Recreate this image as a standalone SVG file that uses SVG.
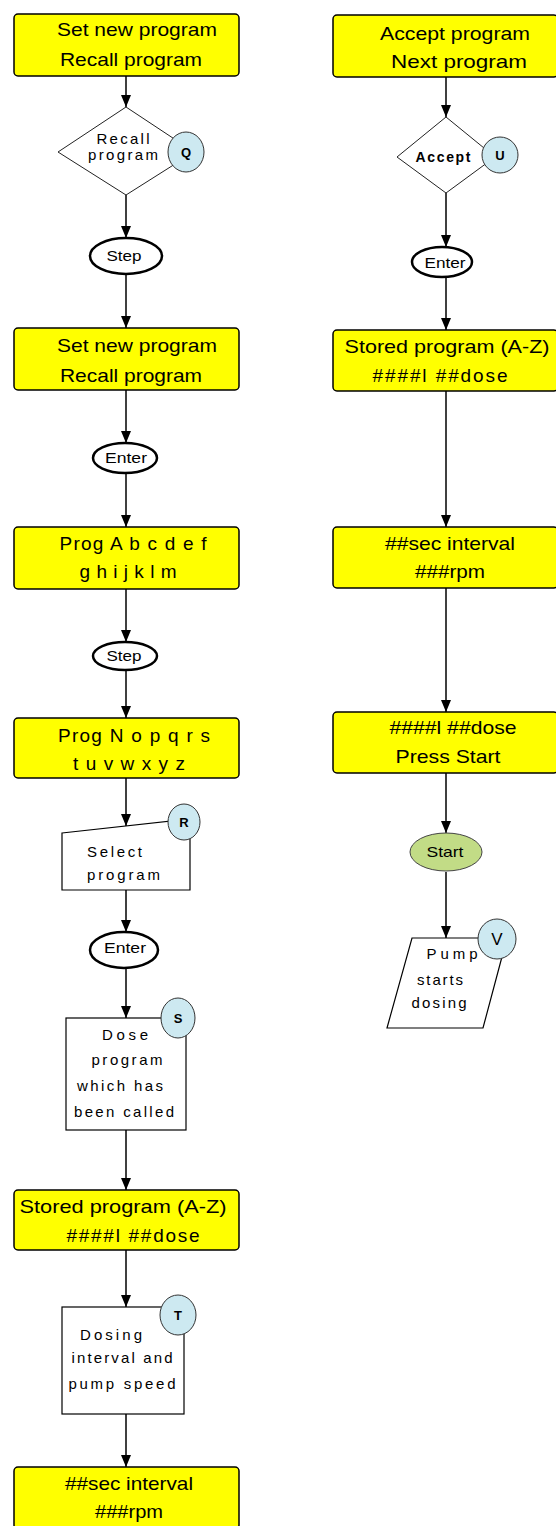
<svg xmlns="http://www.w3.org/2000/svg" width="556" height="1526" viewBox="0 0 556 1526">
<style>
.box{fill:#ffff00;stroke:#000;stroke-width:1.5}
.proc{fill:#fff;stroke:#000;stroke-width:1.2}
.dia{fill:#fff;stroke:#222;stroke-width:1}
.term{fill:#fff;stroke:#000;stroke-width:2.5}
.start{fill:#c2dc86;stroke:#444;stroke-width:1}
.tag{fill:#cde9f1;stroke:#333;stroke-width:1}
.big{font-family:"Liberation Sans",Arial,sans-serif;font-size:19px;fill:#000;text-anchor:middle}
.sm{font-family:"Liberation Sans",Arial,sans-serif;font-size:15px;fill:#000;text-anchor:middle}
.tl{font-family:"Liberation Sans",Arial,sans-serif;font-size:13px;font-weight:bold;fill:#000;text-anchor:middle}
.con{stroke:#000;stroke-width:1.5;fill:none;marker-end:url(#ah)}
</style>
<defs>
<marker id="ah" viewBox="0 0 12 10" refX="12" refY="5" markerWidth="12" markerHeight="10" markerUnits="userSpaceOnUse" orient="auto">
<path d="M0,0 L12,5 L0,10 Z" fill="#000"/>
</marker>
</defs>
<rect width="556" height="1526" fill="#fff"/>

<g id="connectors">
<line class="con" x1="126" y1="76" x2="126" y2="107"/>
<line class="con" x1="126" y1="195" x2="126" y2="238"/>
<line class="con" x1="126" y1="274" x2="126" y2="328"/>
<line class="con" x1="126" y1="390" x2="126" y2="443"/>
<line class="con" x1="126" y1="473" x2="126" y2="527"/>
<line class="con" x1="126" y1="589" x2="126" y2="642"/>
<line class="con" x1="126" y1="670" x2="126" y2="718"/>
<line class="con" x1="126" y1="778" x2="126" y2="826"/>
<line class="con" x1="126" y1="890" x2="126" y2="932"/>
<line class="con" x1="126" y1="968" x2="126" y2="1018"/>
<line class="con" x1="126" y1="1130" x2="126" y2="1190"/>
<line class="con" x1="126" y1="1250" x2="126" y2="1307"/>
<line class="con" x1="126" y1="1414" x2="126" y2="1467"/>
<line class="con" x1="446" y1="77" x2="446" y2="117"/>
<line class="con" x1="446" y1="193" x2="446" y2="247"/>
<line class="con" x1="446" y1="277" x2="446" y2="330"/>
<line class="con" x1="446" y1="391" x2="446" y2="527"/>
<line class="con" x1="446" y1="588" x2="446" y2="712"/>
<line class="con" x1="446" y1="773" x2="446" y2="833"/>
<line class="con" x1="446" y1="872" x2="446" y2="938"/>
</g>

<g id="n1">
<rect class="box" x="14" y="14" width="225" height="62" rx="4"/>
<text class="big" x="137" y="36" textLength="160" lengthAdjust="spacingAndGlyphs">Set new program</text>
<text class="big" x="131" y="66" textLength="142" lengthAdjust="spacingAndGlyphs">Recall program</text>
</g>
<g id="n2">
<polygon class="dia" points="126,107 194,152 126,195 58,152"/>
<text class="sm" x="123" y="144" textLength="53" lengthAdjust="spacing">Recall</text>
<text class="sm" x="123" y="160" textLength="70" lengthAdjust="spacing">program</text>
<ellipse class="tag" cx="186" cy="152" rx="18" ry="20"/>
<text class="tl" x="186" y="157">Q</text>
</g>
<g id="n3">
<ellipse class="term" cx="126" cy="256" rx="36" ry="18"/>
<text class="sm" x="124" y="261" textLength="35" lengthAdjust="spacingAndGlyphs">Step</text>
</g>
<g id="n4">
<rect class="box" x="14" y="328" width="225" height="62" rx="4"/>
<text class="big" x="137" y="352" textLength="160" lengthAdjust="spacingAndGlyphs">Set new program</text>
<text class="big" x="131" y="382" textLength="142" lengthAdjust="spacingAndGlyphs">Recall program</text>
</g>
<g id="n5">
<ellipse class="term" cx="125" cy="458" rx="32" ry="15"/>
<text class="sm" x="126" y="463" textLength="42" lengthAdjust="spacingAndGlyphs">Enter</text>
</g>
<g id="n6">
<rect class="box" x="14" y="527" width="225" height="62" rx="4"/>
<text class="big" x="133" y="550" textLength="147" lengthAdjust="spacing">Prog A b c d e f</text>
<text class="big" x="128" y="578" textLength="97" lengthAdjust="spacing">g h i j k l m</text>
</g>
<g id="n7">
<ellipse class="term" cx="125" cy="656" rx="32" ry="14"/>
<text class="sm" x="124" y="661" textLength="35" lengthAdjust="spacingAndGlyphs">Step</text>
</g>
<g id="n8">
<rect class="box" x="14" y="718" width="225" height="60" rx="4"/>
<text class="big" x="134" y="742" textLength="152" lengthAdjust="spacing">Prog N o p q r s</text>
<text class="big" x="129" y="770" textLength="112" lengthAdjust="spacing">t u v w x y z</text>
</g>
<g id="n9">
<polygon class="proc" points="62,833 190,819 190,890 62,890"/>
<text class="sm" x="87" y="857" style="text-anchor:start" textLength="55" lengthAdjust="spacing">Select</text>
<text class="sm" x="87" y="880" style="text-anchor:start" textLength="73" lengthAdjust="spacing">program</text>
<ellipse class="tag" cx="184" cy="822" rx="16" ry="18"/>
<text class="tl" x="184" y="827">R</text>
</g>
<g id="n10">
<ellipse class="term" cx="124" cy="950" rx="34" ry="18"/>
<text class="sm" x="125" y="953" textLength="42" lengthAdjust="spacingAndGlyphs">Enter</text>
</g>
<g id="n11">
<rect class="proc" x="66" y="1018" width="120" height="112"/>
<text class="sm" x="125" y="1040" textLength="46" lengthAdjust="spacing">Dose</text>
<text class="sm" x="127" y="1065" textLength="71" lengthAdjust="spacing">program</text>
<text class="sm" x="120" y="1091" textLength="86" lengthAdjust="spacing">which has</text>
<text class="sm" x="124" y="1117" textLength="100" lengthAdjust="spacing">been called</text>
<ellipse class="tag" cx="178" cy="1018" rx="17" ry="20"/>
<text class="tl" x="178" y="1023">S</text>
</g>
<g id="n12">
<rect class="box" x="14" y="1190" width="225" height="60" rx="4"/>
<text class="big" x="123" y="1213" textLength="207" lengthAdjust="spacingAndGlyphs">Stored program (A-Z)</text>
<text class="big" x="133" y="1242" textLength="133" lengthAdjust="spacing">####l  ##dose</text>
</g>
<g id="n13">
<rect class="proc" x="62" y="1307" width="122" height="107"/>
<text class="sm" x="111" y="1340" textLength="62" lengthAdjust="spacing">Dosing</text>
<text class="sm" x="122" y="1363" textLength="101" lengthAdjust="spacing">interval and</text>
<text class="sm" x="122" y="1389" textLength="107" lengthAdjust="spacing">pump speed</text>
<ellipse class="tag" cx="178" cy="1315" rx="18" ry="20"/>
<text class="tl" x="178" y="1320">T</text>
</g>
<g id="n14">
<rect class="box" x="14" y="1467" width="225" height="62" rx="4"/>
<text class="big" x="129" y="1490" textLength="128" lengthAdjust="spacingAndGlyphs">##sec interval</text>
<text class="big" x="129" y="1518" textLength="68" lengthAdjust="spacingAndGlyphs">###rpm</text>
</g>

<g id="n15">
<rect class="box" x="333" y="15" width="225" height="62" rx="4"/>
<text class="big" x="455" y="40" textLength="150" lengthAdjust="spacingAndGlyphs">Accept program</text>
<text class="big" x="459" y="68" textLength="136" lengthAdjust="spacingAndGlyphs">Next program</text>
</g>
<g id="n16">
<polygon class="dia" points="446,117 495,157 446,193 397,157"/>
<text class="sm" x="443" y="162" textLength="55" lengthAdjust="spacing" style="font-size:14px;font-weight:bold">Accept</text>
<ellipse class="tag" cx="500" cy="155" rx="18" ry="18"/>
<text class="tl" x="500" y="160">U</text>
</g>
<g id="n17">
<ellipse class="term" cx="442" cy="262" rx="30" ry="15"/>
<text class="sm" x="445" y="268" textLength="41" lengthAdjust="spacingAndGlyphs">Enter</text>
</g>
<g id="n18">
<rect class="box" x="333" y="330" width="225" height="61" rx="4"/>
<text class="big" x="447" y="353" textLength="205" lengthAdjust="spacingAndGlyphs">Stored program (A-Z)</text>
<text class="big" x="440" y="382" textLength="135" lengthAdjust="spacing">####l  ##dose</text>
</g>
<g id="n19">
<rect class="box" x="333" y="527" width="225" height="61" rx="4"/>
<text class="big" x="450" y="550" textLength="130" lengthAdjust="spacingAndGlyphs">##sec interval</text>
<text class="big" x="450" y="578" textLength="70" lengthAdjust="spacingAndGlyphs">###rpm</text>
</g>
<g id="n20">
<rect class="box" x="333" y="712" width="225" height="61" rx="4"/>
<text class="big" x="453" y="734" textLength="127" lengthAdjust="spacingAndGlyphs">####l ##dose</text>
<text class="big" x="448" y="763" textLength="105" lengthAdjust="spacingAndGlyphs">Press Start</text>
</g>
<g id="n21">
<ellipse class="start" cx="446" cy="852" rx="36" ry="19"/>
<text class="sm" x="445" y="857" textLength="37" lengthAdjust="spacingAndGlyphs">Start</text>
</g>
<g id="n22">
<polygon class="proc" points="412,938 507,938 483,1028 387,1028"/>
<text class="sm" x="452" y="959" textLength="51" lengthAdjust="spacing">Pump</text>
<text class="sm" x="440" y="985" textLength="46" lengthAdjust="spacing">starts</text>
<text class="sm" x="439" y="1008" textLength="55" lengthAdjust="spacing">dosing</text>
<ellipse class="tag" cx="497" cy="939" rx="19" ry="20"/>
<text class="tl" x="497" y="945" style="font-size:17px;font-weight:normal">V</text>
</g>
</svg>
